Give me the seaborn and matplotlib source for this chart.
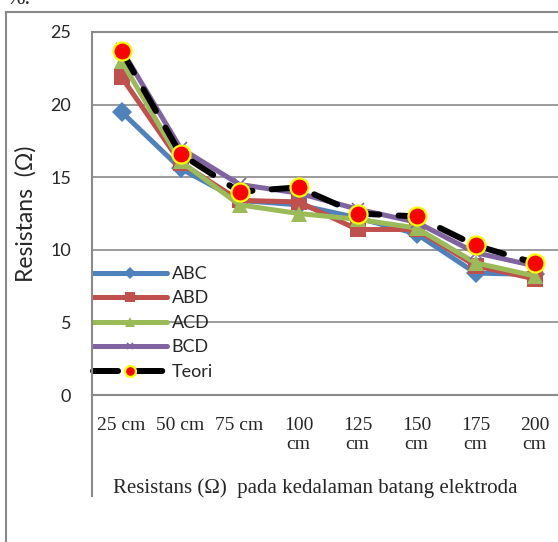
import matplotlib
matplotlib.use("Agg")
import matplotlib.pyplot as plt
from matplotlib.lines import Line2D
import seaborn as sns
import numpy as np

# Electrode rod depths and measured resistance per electrode combination
depths = ["25 cm", "50 cm", "75 cm", "100\ncm", "125\ncm", "150\ncm", "175\ncm", "200\ncm"]
abc = [19.5, 15.6, 13.4, 13.1, 12.2, 11.1, 8.4, 8.3]
abd = [21.9, 16.0, 13.4, 13.3, 11.4, 11.4, 8.9, 8.0]
acd = [23.0, 16.1, 13.1, 12.5, 12.1, 11.5, 9.1, 8.2]
bcd = [23.8, 17.0, 14.5, 13.9, 12.8, 11.9, 9.8, 8.9]
teori = [23.7, 16.6, 14.0, 14.3, 12.5, 12.3, 10.3, 9.1]
y_ticks = [0, 5, 10, 15, 20, 25]

sns.set_style("white")
plt.rcParams["font.family"] = ["Lato", "DejaVu Sans"]

W, H = 558, 542
fig = plt.figure(figsize=(W / 100, H / 100), dpi=100)

def fx(px):
    return px / W

def fy(py):
    return 1 - py / H

left, top, bottom, right = 92, 32, 395, 564
ax = fig.add_axes([fx(left), fy(bottom), (right - left) / W, (bottom - top) / H])

grey = "#8a8a8a"
x = np.arange(len(depths))

series = [
    ("ABC", abc, dict(color="#4F81BD", marker="D", markersize=10,
                      markeredgecolor="#4F81BD", markeredgewidth=0)),
    ("ABD", abd, dict(color="#C0504D", marker="s", markersize=11,
                      markeredgecolor="#C0504D", markeredgewidth=0)),
    ("ACD", acd, dict(color="#9BBB59", marker="^", markersize=12,
                      markeredgecolor="#9BBB59", markeredgewidth=0)),
    ("BCD", bcd, dict(color="#8064A2", marker="x", markersize=8,
                      markeredgecolor="#8064A2", markeredgewidth=1.2)),
]
for name, vals, style in series:
    sns.lineplot(x=x, y=vals, ax=ax, label=name, linewidth=3.6,
                 solid_joinstyle="round", solid_capstyle="round", **style)

sns.lineplot(x=x, y=teori, ax=ax, label="Teori", color="black", linewidth=4.3,
             linestyle=(0, (4.2, 3.2)), dash_capstyle="round",
             marker="o", markersize=13, markerfacecolor="red",
             markeredgecolor="yellow", markeredgewidth=1.6)

ax.set_xlim(-0.5, len(depths) - 0.5)
ax.set_ylim(0, 25)
ax.set_yticks(y_ticks)
ax.set_xticks(x)
ax.set_xticklabels(depths, fontfamily="Liberation Serif", fontsize=14,
                   linespacing=1.12)
ax.tick_params(axis="x", length=0, pad=16)
ax.tick_params(axis="y", length=0, pad=15, labelsize=13)

ax.grid(axis="y", color=grey, linewidth=1.2)
ax.grid(axis="x", visible=False)
ax.set_axisbelow(True)
for side in ("left", "right"):
    ax.spines[side].set_visible(False)
for side in ("top", "bottom"):
    ax.spines[side].set_color(grey)
    ax.spines[side].set_linewidth(1.5)

ax.set_ylabel("Resistans  (Ω)", fontsize=16.5, va="center")
ax.yaxis.set_label_coords((26 - left) / (right - left), (bottom - 214) / (bottom - top))
ax.set_xlabel("Resistans (Ω)  pada kedalaman batang elektroda",
              fontfamily="Liberation Serif", fontsize=15, va="center")
ax.xaxis.set_label_coords((315 - left) / (right - left), (bottom - 488) / (bottom - top))

leg = ax.legend(loc="upper left", bbox_to_anchor=((93 - left) / (right - left), (bottom - 266) / (bottom - top)),
                frameon=False, fontsize=13, handlelength=4.1, handletextpad=0.25,
                labelspacing=0.47, borderpad=0, borderaxespad=0, markerscale=0.6)

# left edge of the plot area and the outer chart frame
frame_lines = [
    ((fx(left), fx(left)), (fy(496), fy(top))),
    ((fx(6), fx(6)), (0.0, fy(12))),
    ((fx(6), 1.0), (fy(12), fy(12))),
]
for xs, ys in frame_lines:
    fig.add_artist(Line2D(xs, ys, transform=fig.transFigure, color=grey,
                          linewidth=1.5, solid_capstyle="projecting"))

fig.text(fx(6), fy(4), "%.", fontfamily="Liberation Serif", fontsize=16,
         va="baseline", ha="left")

fig.savefig("out.png", dpi=100)
